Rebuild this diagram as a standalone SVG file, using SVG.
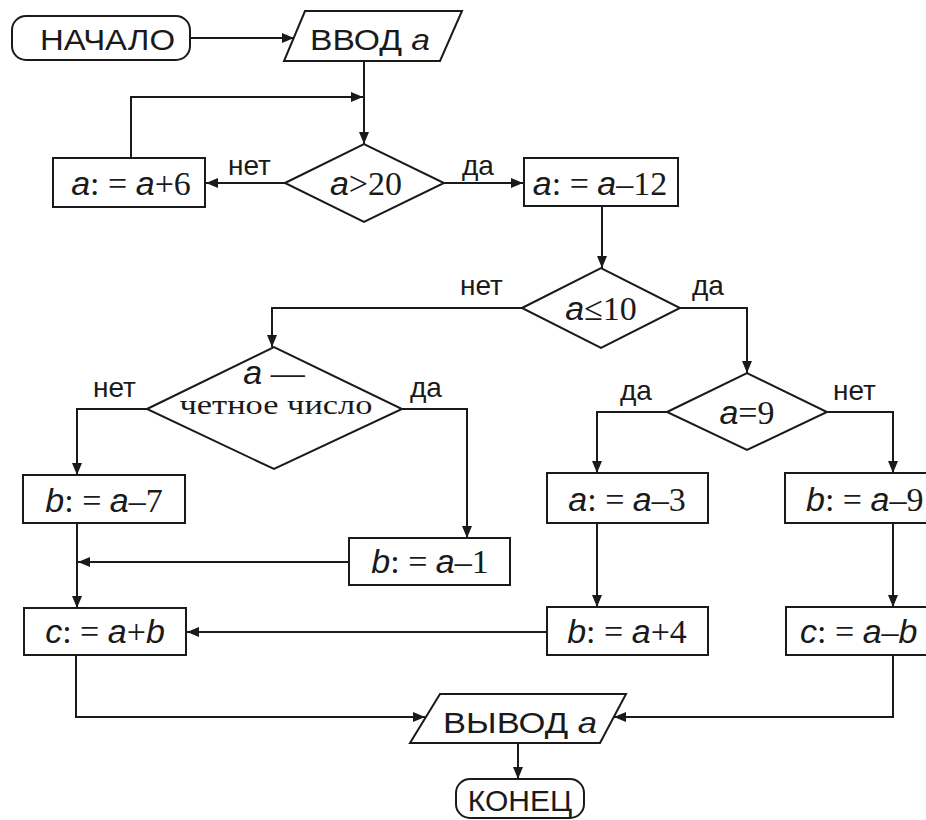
<svg xmlns="http://www.w3.org/2000/svg" width="926" height="820" viewBox="0 0 926 820">
<style>
.s{fill:#fff;stroke:#1a1a1a;stroke-width:2}
.c{fill:none;stroke:#1a1a1a;stroke-width:2}
.t{font-family:"Liberation Sans",Arial,sans-serif;font-size:30px;fill:#1a1a1a}
.l{font-family:"Liberation Sans",Arial,sans-serif;font-size:28px;fill:#1a1a1a}
.f{font-family:"Liberation Serif","Times New Roman",serif;font-size:34px;fill:#1a1a1a}
.v{font-family:"Liberation Sans",Arial,sans-serif;font-style:italic}
.r{font-family:"Liberation Serif","Times New Roman",serif;font-size:27px;fill:#1a1a1a}
</style>
<defs>
<marker id="a" viewBox="0 0 12 10" refX="12" refY="5" markerWidth="12" markerHeight="10" markerUnits="userSpaceOnUse" orient="auto">
<path d="M0,0 L12,5 L0,10 Z" fill="#1a1a1a"/>
</marker>
</defs>
<rect width="926" height="820" fill="#fff"/>
<g id="connectors">
<line class="c" x1="190" y1="38" x2="294" y2="38" marker-end="url(#a)"/>
<line class="c" x1="364" y1="61" x2="364" y2="144" marker-end="url(#a)"/>
<polyline class="c" points="131,158 131,97 363,97" marker-end="url(#a)"/>
<line class="c" x1="285" y1="183" x2="206" y2="183" marker-end="url(#a)"/>
<line class="c" x1="444" y1="183" x2="523" y2="183" marker-end="url(#a)"/>
<line class="c" x1="602" y1="206" x2="602" y2="268" marker-end="url(#a)"/>
<polyline class="c" points="680,308 747,308 747,373" marker-end="url(#a)"/>
<polyline class="c" points="522,308 272,308 272,347" marker-end="url(#a)"/>
<polyline class="c" points="147,409 77,409 77,475" marker-end="url(#a)"/>
<polyline class="c" points="402,409 467,409 467,538" marker-end="url(#a)"/>
<line class="c" x1="349" y1="562" x2="78" y2="562" marker-end="url(#a)"/>
<line class="c" x1="77" y1="523" x2="77" y2="608" marker-end="url(#a)"/>
<line class="c" x1="547" y1="632" x2="187" y2="632" marker-end="url(#a)"/>
<polyline class="c" points="667,412 597,412 597,473" marker-end="url(#a)"/>
<line class="c" x1="597" y1="523" x2="597" y2="607" marker-end="url(#a)"/>
<polyline class="c" points="827,412 893,412 893,473" marker-end="url(#a)"/>
<line class="c" x1="893" y1="523" x2="893" y2="607" marker-end="url(#a)"/>
<polyline class="c" points="893,655 893,717 614,717" marker-end="url(#a)"/>
<polyline class="c" points="76,655 76,717 425,717" marker-end="url(#a)"/>
<line class="c" x1="518" y1="743" x2="518" y2="779" marker-end="url(#a)"/>
<text class="l" x="228" y="175">нет</text>
<text class="l" x="462" y="175">да</text>
<text class="l" x="460" y="295">нет</text>
<text class="l" x="692" y="295">да</text>
<text class="l" x="93" y="397">нет</text>
<text class="l" x="410" y="397">да</text>
<text class="l" x="620" y="400">да</text>
<text class="l" x="833" y="400">нет</text>
</g>
<g id="start">
<rect class="s" x="12" y="16" width="178" height="44" rx="14"/>
<text class="t" x="40" y="50" font-size="33" textLength="135" lengthAdjust="spacingAndGlyphs">НАЧАЛО</text>
</g>
<g id="input">
<polygon class="s" points="305,11 462,11 440,61 284,61"/>
<text class="t" x="310" y="50" font-size="33" textLength="120" lengthAdjust="spacingAndGlyphs">ВВОД <tspan class="v">a</tspan></text>
</g>
<g id="cond1">
<polygon class="s" points="285,183 364,144 444,183 364,222"/>
<text class="f" x="366" y="195" text-anchor="middle"><tspan class="v">a</tspan>&gt;20</text>
</g>
<g id="inc6">
<rect class="s" x="53" y="158" width="152" height="49"/>
<text class="f" x="131" y="195" text-anchor="middle"><tspan class="v">a</tspan>: = <tspan class="v">a</tspan>+6</text>
</g>
<g id="dec12">
<rect class="s" x="524" y="158" width="154" height="48"/>
<text class="f" x="600" y="195" text-anchor="middle"><tspan class="v">a</tspan>: = <tspan class="v">a</tspan>–12</text>
</g>
<g id="cond2">
<polygon class="s" points="522,308 601,268 680,308 601,348"/>
<text class="f" x="601" y="320" text-anchor="middle"><tspan class="v">a</tspan>≤10</text>
</g>
<g id="cond3">
<polygon class="s" points="147,409 274,347 402,409 274,469"/>
<text class="f" x="274" y="384" text-anchor="middle"><tspan class="v">a</tspan> —</text>
<text class="r" x="276" y="414" text-anchor="middle" textLength="193" lengthAdjust="spacingAndGlyphs">четное число</text>
</g>
<g id="bm7">
<rect class="s" x="23" y="475" width="162" height="48"/>
<text class="f" x="104" y="512" text-anchor="middle"><tspan class="v">b</tspan>: = <tspan class="v">a</tspan>–7</text>
</g>
<g id="bm1">
<rect class="s" x="349" y="538" width="161" height="47"/>
<text class="f" x="430" y="573" text-anchor="middle"><tspan class="v">b</tspan>: = <tspan class="v">a</tspan>–1</text>
</g>
<g id="cplus">
<rect class="s" x="24" y="608" width="162" height="47"/>
<text class="f" x="105" y="643" text-anchor="middle"><tspan class="v">c</tspan>: = <tspan class="v">a</tspan>+<tspan class="v">b</tspan></text>
</g>
<g id="cond4">
<polygon class="s" points="667,412 747,373 827,412 747,450"/>
<text class="f" x="747" y="424" text-anchor="middle"><tspan class="v">a</tspan>=9</text>
</g>
<g id="am3">
<rect class="s" x="547" y="473" width="161" height="50"/>
<text class="f" x="627" y="511" text-anchor="middle"><tspan class="v">a</tspan>: = <tspan class="v">a</tspan>–3</text>
</g>
<g id="bp4">
<rect class="s" x="547" y="607" width="161" height="48"/>
<text class="f" x="627" y="643" text-anchor="middle"><tspan class="v">b</tspan>: = <tspan class="v">a</tspan>+4</text>
</g>
<g id="bm9">
<rect class="s" x="785" y="473" width="160" height="50"/>
<text class="f" x="806" y="511"><tspan class="v">b</tspan>: = <tspan class="v">a</tspan>–9</text>
</g>
<g id="cminus">
<rect class="s" x="786" y="607" width="160" height="48"/>
<text class="f" x="800" y="643"><tspan class="v">c</tspan>: = <tspan class="v">a</tspan>–<tspan class="v">b</tspan></text>
</g>
<g id="output">
<polygon class="s" points="440,694 626,694 600,743 410,743"/>
<text class="t" x="443" y="733" font-size="32" textLength="154" lengthAdjust="spacingAndGlyphs">ВЫВОД <tspan class="v">a</tspan></text>
</g>
<g id="end">
<rect class="s" x="456" y="779" width="128" height="39" rx="14"/>
<text class="t" x="520" y="811" text-anchor="middle" font-size="30">КОНЕЦ</text>
</g>
</svg>
